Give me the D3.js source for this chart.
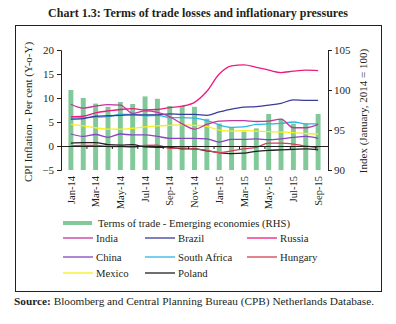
<!DOCTYPE html>
<html>
<head>
<meta charset="utf-8">
<script src="https://cdn.jsdelivr.net/npm/d3@7"></script>
<style>
  body { margin: 0; background: #fff; }
  svg text { font-family: "Liberation Serif", serif; fill: #231f20; }
</style>
</head>
<body>
<div id="chart"></div>
<script>
const months = ["Jan-14","Feb-14","Mar-14","Apr-14","May-14","Jun-14","Jul-14","Aug-14","Sep-14","Oct-14","Nov-14","Dec-14",
  "Jan-15","Feb-15","Mar-15","Apr-15","May-15","Jun-15","Jul-15","Aug-15","Sep-15"];
const monthLabels = ["Jan-14","Mar-14","May-14","Jul-14","Sep-14","Nov-14","Jan-15","Mar-15","May-15","Jul-15","Sep-15"];

// terms of trade index (RHS)
const termsOfTrade = [100, 99.0, 98.3, 97.9, 98.5, 98.25, 99.2, 98.9, 98.0, 98.0, 97.9, 96.4,
  95.8, 95.3, 94.8, 95.2, 97.0, 96.4, 95.8, 95.8, 97.0];

// CPI inflation, per cent y-o-y (LHS)
const india = [8.7, 7.9, 8.3, 8.6, 8.5, 6.8, 7.3, 7.0, 6.1, 4.6, 3.5, 4.5, 5.2, 5.3, 5.3, 5.1, 5.2, 5.6, 3.8, 3.8, 4.5];
const brazil = [5.6, 5.7, 6.2, 6.3, 6.4, 6.5, 6.5, 6.5, 6.7, 6.6, 6.6, 6.4, 7.1, 7.7, 8.1, 8.2, 8.5, 8.9, 9.6, 9.5, 9.5];
const russia = [6.1, 6.2, 6.9, 7.3, 7.6, 7.8, 7.5, 7.6, 8.0, 8.3, 9.1, 11.4, 15.0, 16.7, 16.9, 16.4, 15.8, 15.3, 15.6, 15.8, 15.7];
const china = [2.5, 2.0, 2.4, 1.8, 2.5, 2.3, 2.3, 2.0, 1.6, 1.6, 1.6, 1.5, 0.8, 1.4, 1.4, 1.5, 1.3, 1.5, 1.8, 2.0, 1.6];
const southAfrica = [5.8, 5.9, 6.0, 6.1, 6.6, 6.6, 6.3, 6.4, 5.9, 5.9, 5.8, 5.3, 4.4, 3.9, 4.0, 4.5, 4.6, 4.7, 5.0, 4.6, 4.6];
const hungary = [0.0, 0.1, 0.1, -0.1, -0.1, -0.3, 0.1, 0.2, -0.5, -0.4, -0.6, -0.9, -1.4, -1.0, -0.6, -0.3, 0.6, 0.6, 0.4, 0.0, -0.4];
const mexico = [4.5, 4.2, 3.8, 3.5, 3.5, 3.7, 4.0, 4.2, 4.3, 4.4, 4.3, 4.1, 3.3, 3.1, 3.2, 3.1, 3.0, 2.9, 2.8, 2.6, 2.5];
const poland = [0.6, 0.7, 0.7, 0.3, 0.2, 0.3, -0.2, -0.3, -0.3, -0.6, -0.6, -1.0, -1.4, -1.6, -1.5, -1.1, -0.9, -0.8, -0.7, -0.6, -0.8];

const leftTicks = [-5, 0, 5, 10, 15, 20];
const rightTicks = [90, 95, 100, 105];

const series = [
  { name: "India", values: india, color: "#c1369b" },
  { name: "Brazil", values: brazil, color: "#3b3b9b" },
  { name: "Russia", values: russia, color: "#ec1b7d" },
  { name: "China", values: china, color: "#8a44be" },
  { name: "South Africa", values: southAfrica, color: "#2fb4e6" },
  { name: "Hungary", values: hungary, color: "#d2414f" },
  { name: "Mexico", values: mexico, color: "#f7ef1a" },
  { name: "Poland", values: poland, color: "#231f20" },
];

const width = 396, height = 324;
const plot = { left: 61, right: 328, top: 50, bottom: 170 };

const svg = d3.select("#chart").append("svg")
  .attr("width", width)
  .attr("height", height);

// title
svg.append("text")
  .attr("x", 198).attr("y", 17)
  .attr("text-anchor", "middle")
  .style("font-size", "12px")
  .style("font-weight", "bold")
  .text("Chart 1.3: Terms of trade losses and inflationary pressures");

// frame
svg.append("rect")
  .attr("x", 15.5).attr("y", 25.5)
  .attr("width", 366).attr("height", 266)
  .attr("fill", "none")
  .attr("stroke", "#231f20")
  .attr("stroke-width", 1);

const x = d3.scaleBand().domain(months).range([plot.left, plot.right]).padding(0.6);
const xIdx = d3.scaleLinear().domain([0, months.length]).range([plot.left, plot.right]);
const yL = d3.scaleLinear().domain([-5, 20]).range([plot.bottom, plot.top]);
const yR = d3.scaleLinear().domain([90, 105]).range([plot.bottom, plot.top]);

// bars
svg.append("g")
  .selectAll("rect")
  .data(termsOfTrade)
  .join("rect")
  .attr("x", (d, i) => x(months[i]))
  .attr("y", (d) => yR(d))
  .attr("width", x.bandwidth())
  .attr("height", (d) => yR(90) - yR(d))
  .attr("fill", "#82c99a");

// lines
const line = d3.line()
  .x((d, i) => x(months[i]) + x.bandwidth() / 2)
  .y((d) => yL(d))
  .curve(d3.curveMonotoneX);

svg.append("g")
  .selectAll("path")
  .data(series.slice().reverse())
  .join("path")
  .attr("d", (d) => line(d.values))
  .attr("fill", "none")
  .attr("stroke", (d) => d.color)
  .attr("stroke-width", 1.3);

// zero axis with ticks between months
const zeroAxis = d3.axisBottom(xIdx)
  .tickValues(d3.range(2, months.length, 2))
  .tickFormat("")
  .tickSize(3)
  .tickSizeOuter(0);
const zeroG = svg.append("g")
  .attr("transform", `translate(0,${yL(0)})`)
  .call(zeroAxis);
zeroG.selectAll("path, line").attr("stroke", "#231f20");

// month labels
const xAxis = d3.axisBottom(x).tickValues(monthLabels).tickSize(0);
const xG = svg.append("g")
  .attr("transform", `translate(0,${plot.bottom})`)
  .call(xAxis);
xG.select(".domain").remove();
xG.selectAll("text")
  .attr("transform", "rotate(-90)")
  .attr("x", -6)
  .attr("y", 0)
  .attr("dy", "0.35em")
  .attr("text-anchor", "end")
  .style("font-size", "10.5px")
  .style("font-family", "Liberation Serif, serif");

// left axis
const leftG = svg.append("g")
  .attr("transform", `translate(${plot.left},0)`)
  .call(d3.axisLeft(yL).tickValues(leftTicks).tickSize(4).tickPadding(3));
leftG.selectAll("path, line").attr("stroke", "#231f20");
leftG.selectAll("text").style("font-size", "11px").style("font-family", "Liberation Serif, serif");

// right axis
const rightG = svg.append("g")
  .attr("transform", `translate(${plot.right},0)`)
  .call(d3.axisRight(yR).tickValues(rightTicks).tickSize(4).tickPadding(2));
rightG.selectAll("path, line").attr("stroke", "#231f20");
rightG.selectAll("text").style("font-size", "11px").style("font-family", "Liberation Serif, serif");

// axis titles
svg.append("text")
  .attr("transform", "translate(32,112) rotate(-90)")
  .attr("text-anchor", "middle")
  .style("font-size", "11px")
  .text("CPI Inflation - Per cent (Y-o-Y)");

svg.append("text")
  .attr("transform", "translate(367,111) rotate(-90)")
  .attr("text-anchor", "middle")
  .style("font-size", "11px")
  .text("Index  (January, 2014 = 100)");

// legend
const legend = svg.append("g");
legend.append("rect")
  .attr("x", 63).attr("y", 221)
  .attr("width", 29).attr("height", 4)
  .attr("fill", "#82c99a");
legend.append("text")
  .attr("x", 98).attr("y", 226.5)
  .style("font-size", "10.7px")
  .text("Terms of trade - Emerging economies (RHS)");

const colX = [63, 145, 247];
const rowY = [238, 257, 273];
const items = legend.selectAll("g.item")
  .data(series)
  .join("g")
  .attr("class", "item")
  .attr("transform", (d, i) => `translate(${colX[i % 3]},${rowY[Math.floor(i / 3)]})`);
items.append("line")
  .attr("x1", 0).attr("x2", 30)
  .attr("y1", 0).attr("y2", 0)
  .attr("stroke", (d) => d.color)
  .attr("stroke-width", 1.3);
items.append("text")
  .attr("x", 33).attr("y", 3.8)
  .style("font-size", "10.7px")
  .text((d) => d.name);

// source
const src = svg.append("text")
  .attr("x", 14).attr("y", 305)
  .style("font-size", "11.3px");
src.append("tspan").style("font-weight", "bold").text("Source:");
src.append("tspan").text(" Bloomberg and Central Planning Bureau (CPB) Netherlands Database.");
</script>
</body>
</html>
